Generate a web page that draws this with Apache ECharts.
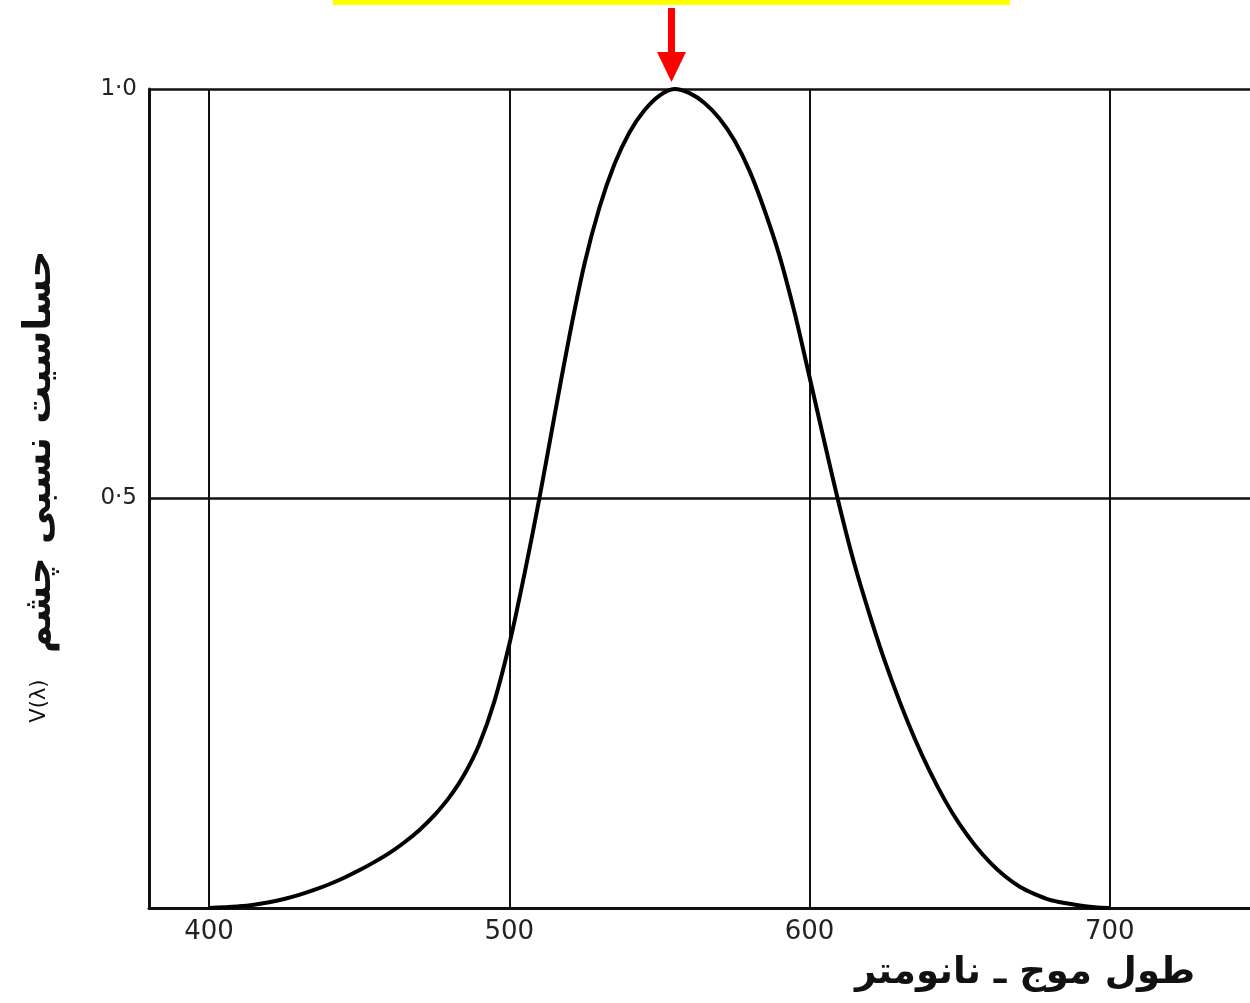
<!DOCTYPE html>
<html>
<head>
<meta charset="utf-8">
<title>V(λ)</title>
<script src="https://cdn.jsdelivr.net/npm/echarts@6/dist/echarts.min.js"></script>
<style>
    html, body { margin: 0; padding: 0; background: #fff; }
    #chartmain { width: 1250px; height: 1003px; }
</style>
</head>
<body>
<div id="chartmain"></div>
<script>
// 波长 (nm) 和相对视觉灵敏度 V(λ)，每 5nm 从图上读取
var wavelengths = [400, 405, 410, 415, 420, 425, 430, 435, 440, 445, 450, 455, 460, 465, 470, 475, 480, 485, 490, 495,
    500, 505, 510, 515, 520, 525, 530, 535, 540, 545, 550, 555, 560, 565, 570, 575, 580, 585, 590, 595,
    600, 605, 610, 615, 620, 625, 630, 635, 640, 645, 650, 655, 660, 665, 670, 675, 680, 685, 690, 695, 700];
var sensitivity = [0.000, 0.001, 0.002, 0.004, 0.007, 0.011, 0.016, 0.022, 0.029, 0.037, 0.046, 0.056, 0.067, 0.080, 0.095, 0.113, 0.135, 0.163, 0.200, 0.252,
    0.322, 0.407, 0.500, 0.600, 0.698, 0.786, 0.855, 0.908, 0.947, 0.974, 0.992, 1.000, 0.995, 0.983, 0.964, 0.937, 0.900, 0.852, 0.796, 0.727,
    0.648, 0.568, 0.490, 0.419, 0.358, 0.302, 0.252, 0.207, 0.167, 0.132, 0.102, 0.077, 0.056, 0.039, 0.026, 0.017, 0.010, 0.006, 0.003, 0.001, 0.000];
var xTicks = [400, 500, 600, 700];
var yLabels = { '0.5': '0·5', '1': '1·0' };
var xName = 'طول موج ـ نانومتر';
var yName = 'حساسیت نسبی چشم';

var myChart = echarts.init(document.getElementById('chartmain'));

var curveData = [];
for (var i = 0; i < wavelengths.length; i++) {
    curveData.push([wavelengths[i], sensitivity[i]]);
}

var option = {
    backgroundColor: '#fff',
    animation: false,
    title: {
        text: xName,
        right: 50,
        top: 950,
        textStyle: {
            fontFamily: 'DejaVu Sans',
            fontWeight: 'bold',
            fontSize: 37,
            color: '#111'
        }
    },
    grid: {
        left: 149,
        top: 89,
        width: 1141,
        height: 819,
        outerBoundsMode: 'none'
    },
    xAxis: {
        type: 'value',
        min: 380,
        max: 760,
        axisLine: { lineStyle: { color: '#111', width: 3 } },
        axisTick: { show: false, customValues: xTicks },
        axisLabel: {
            customValues: xTicks,
            margin: 11,
            fontFamily: 'DejaVu Sans',
            fontSize: 26,
            color: '#222'
        },
        splitLine: { show: true, lineStyle: { color: '#111', width: 2 } }
    },
    yAxis: {
        type: 'value',
        min: 0,
        max: 1,
        interval: 0.5,
        name: '{a|V(λ)}{b|  ' + yName + '}',
        nameLocation: 'middle',
        nameGap: 90,
        nameTextStyle: {
            padding: [0, 0, 0, 24],
            rich: {
                a: { fontFamily: 'DejaVu Sans', fontSize: 21, color: '#111' },
                b: { fontFamily: 'DejaVu Sans', fontSize: 38, fontWeight: 'bold', color: '#111' }
            }
        },
        axisLine: { show: true, lineStyle: { color: '#111', width: 3 } },
        axisTick: { show: false },
        axisLabel: {
            margin: 12,
            fontFamily: 'DejaVu Sans',
            fontSize: 23,
            color: '#222',
            formatter: function (value) {
                return yLabels[String(value)] || '';
            }
        },
        splitLine: { show: true, lineStyle: { color: '#111', width: 2.5 } }
    },
    series: [{
        type: 'line',
        data: curveData,
        smooth: 0.3,
        symbol: 'none',
        lineStyle: { color: '#000', width: 4 },
        z: 5
    }],
    // 顶部黄色条和指向峰值的红色箭头
    graphic: [
        { type: 'rect', shape: { x: 333, y: 0, width: 677, height: 5 }, style: { fill: '#ffff00' } },
        { type: 'rect', shape: { x: 668, y: 8, width: 7, height: 46 }, style: { fill: '#ff0000' } },
        { type: 'polygon', shape: { points: [[657, 52], [686, 52], [671.5, 82]] }, style: { fill: '#ff0000' } }
    ]
};

myChart.setOption(option);
</script>
</body>
</html>
